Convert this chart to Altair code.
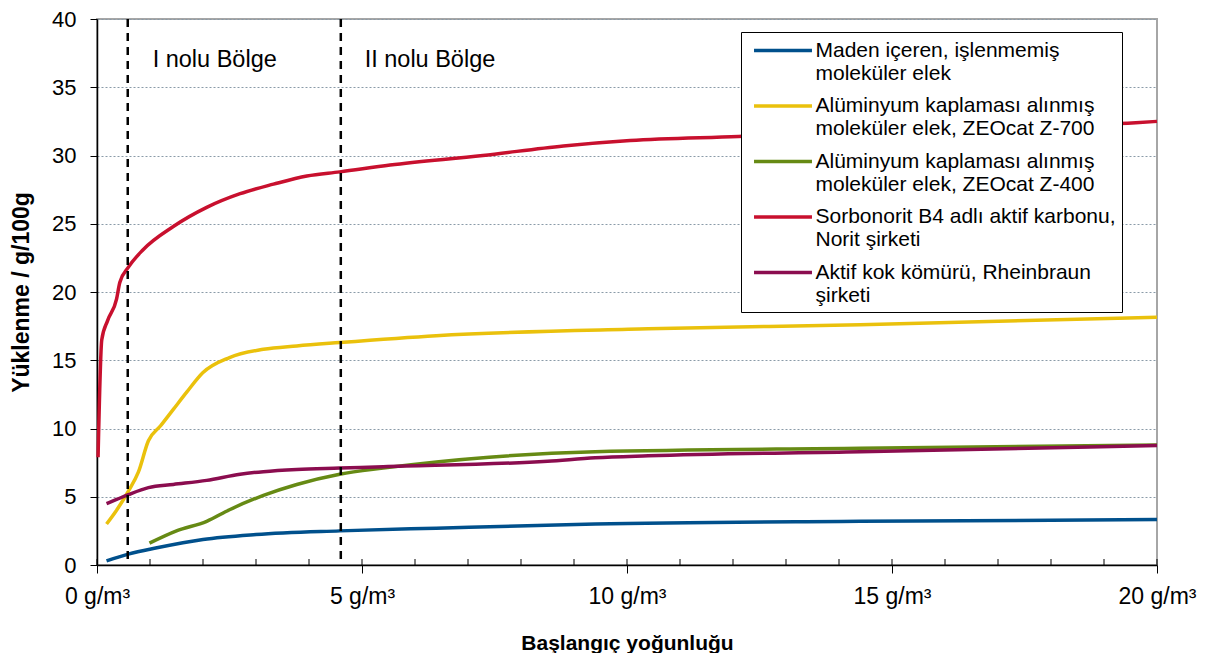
import altair as alt
import pandas as pd

FONT = "Liberation Sans"

series_names = [
    "Maden içeren, işlenmemiş\nmoleküler elek",
    "Alüminyum kaplaması alınmış\nmoleküler elek, ZEOcat Z-700",
    "Alüminyum kaplaması alınmış\nmoleküler elek, ZEOcat Z-400",
    "Sorbonorit B4 adlı aktif karbonu,\nNorit şirketi",
    "Aktif kok kömürü, Rheinbraun\nşirketi",
]
series_colors = ["#00508C", "#EAC10C", "#668A14", "#C8102E", "#8B0D4F"]

blue_x = [0.18, 0.59, 1.13, 2.0, 3.0, 4.58, 6.4, 9.4, 14.4, 20]
blue_y = [0.3, 0.8, 1.26, 1.87, 2.23, 2.5, 2.7, 3.0, 3.2, 3.33]

yellow_x = [0.18, 0.35, 0.59, 0.78, 0.97, 1.2, 1.44, 1.7, 2.0, 2.5, 3.14, 3.77, 4.58, 6.4, 10.4, 14.4, 20]
yellow_y = [3.0, 3.9, 5.4, 6.8, 9.1, 10.2, 11.4, 12.7, 14.1, 15.2, 15.8, 16.05, 16.3, 16.8, 17.3, 17.6, 18.15]

green_x = [0.99, 1.5, 2.07, 2.5, 3.14, 3.77, 4.58, 5.4, 7.4, 9.4, 14.4, 20]
green_y = [1.6, 2.5, 3.2, 4.05, 5.1, 5.9, 6.65, 7.1, 7.9, 8.3, 8.55, 8.8]

red_x = [0.02, 0.09, 0.2, 0.37, 0.43, 0.59, 0.87, 1.44, 2.07, 2.7, 3.33, 3.96, 4.58, 5.53,
         7.28, 8.8, 10.06, 12.1, 14.5, 17, 19.6, 20]
red_y = [7.9, 16.5, 17.9, 19.5, 20.7, 21.8, 23.1, 24.8, 26.2, 27.2, 27.9, 28.5, 28.8, 29.3,
         30.0, 30.7, 31.1, 31.4, 31.8, 32.1, 32.4, 32.5]

purple_x = [0.18, 0.37, 0.59, 0.97, 1.44, 2.07, 2.7, 3.14, 3.77, 4.58, 5.4, 8.5, 9.4, 10.4, 14.4, 20]
purple_y = [4.5, 4.8, 5.15, 5.67, 5.9, 6.2, 6.65, 6.84, 7.0, 7.1, 7.2, 7.6, 7.85, 8.0, 8.3, 8.75]

region_x = [0.58, 4.6]
region_labels = ["I nolu Bölge", "II nolu Bölge"]
region_label_x = [1.05, 5.05]
region_label_y = [37.0, 37.0]

x_ticks = [0, 5, 10, 15, 20]
x_minor = list(range(0, 21))
y_ticks = list(range(0, 41, 5))

rows = []
for name, xs, ys in zip(series_names,
                        [blue_x, yellow_x, green_x, red_x, purple_x],
                        [blue_y, yellow_y, green_y, red_y, purple_y]):
    for i, (a, b) in enumerate(zip(xs, ys)):
        rows.append({"seri": name, "x": a, "y": b, "i": i})
df = pd.DataFrame(rows)

xscale = alt.Scale(domain=[0, 20], nice=False, zero=False)
yscale = alt.Scale(domain=[0, 40], nice=False)

PLOT_H = 546

# wide horizontal stroke as a custom symbol (scaled by sqrt(size)/2)
legend = alt.Legend(
    title=None, orient="none", legendX=644, legendY=13, direction="vertical",
    fillColor="white", strokeColor="black", padding=6,
    symbolType="M-2.76,0H2.76", symbolSize=441, symbolStrokeWidth=3.5,
    symbolOffset=23.5,
    labelFont=FONT, labelFontSize=21, labelColor="black", labelOffset=20,
    labelLimit=1000, rowPadding=9.5,
    labelExpr="split(datum.label, '\\n')",
)

lines = alt.Chart(df).mark_line(interpolate="monotone", strokeWidth=3.5).encode(
    x=alt.X("x:Q", scale=xscale, axis=alt.Axis(
        values=x_ticks, labelExpr="datum.value + ' g/m³'", title="Başlangıç yoğunluğu",
        grid=False, tickSize=8, labelPadding=12, titlePadding=24, labelFlush=False,
        titleFontSize=21, labelFontSize=23)),
    y=alt.Y("y:Q", scale=yscale, axis=alt.Axis(
        values=y_ticks, title="Yüklenme / g/100g", grid=True, tickSize=7,
        labelPadding=14, titlePadding=18, labelFlush=False, titleFontSize=23,
        labelFontSize=22)),
    color=alt.Color("seri:N", scale=alt.Scale(domain=series_names, range=series_colors),
                    legend=legend),
    order="i:Q",
)

rdf = pd.DataFrame({"x": region_x})
dashed = alt.Chart(rdf).mark_rule(color="black", strokeWidth=2.5, strokeDash=[8, 6]).encode(
    x=alt.X("x:Q", scale=xscale)
)

mdf = pd.DataFrame({"x": x_minor})
minor = alt.Chart(mdf).mark_rule(color="black", strokeWidth=1).encode(
    x=alt.X("x:Q", scale=xscale), y=alt.value(PLOT_H), y2=alt.value(PLOT_H - 6)
)

tdf = pd.DataFrame({"x": region_label_x, "y": region_label_y, "t": region_labels})
texts = alt.Chart(tdf).mark_text(align="left", baseline="middle", font=FONT, fontSize=23.5,
                                 color="black").encode(
    x=alt.X("x:Q", scale=xscale), y=alt.Y("y:Q", scale=yscale), text="t:N"
)

chart = alt.layer(lines, dashed, minor, texts).properties(
    width=1060, height=PLOT_H,
    autosize=alt.AutoSizeParams(type="none"),
    padding={"left": 89, "top": 11, "right": 42, "bottom": 88},
).configure_view(
    stroke="#A6A6A6", strokeWidth=2
).configure_axis(
    labelFont=FONT, labelColor="black",
    titleFont=FONT, titleFontWeight="bold", titleColor="black",
    domainColor="black", domainWidth=1.5, tickColor="black", tickWidth=1,
    gridColor="#8A9BA8", gridDash=[2, 2], gridWidth=1,
)

chart.save("out.html", embed_options={"renderer": "svg", "actions": False})
